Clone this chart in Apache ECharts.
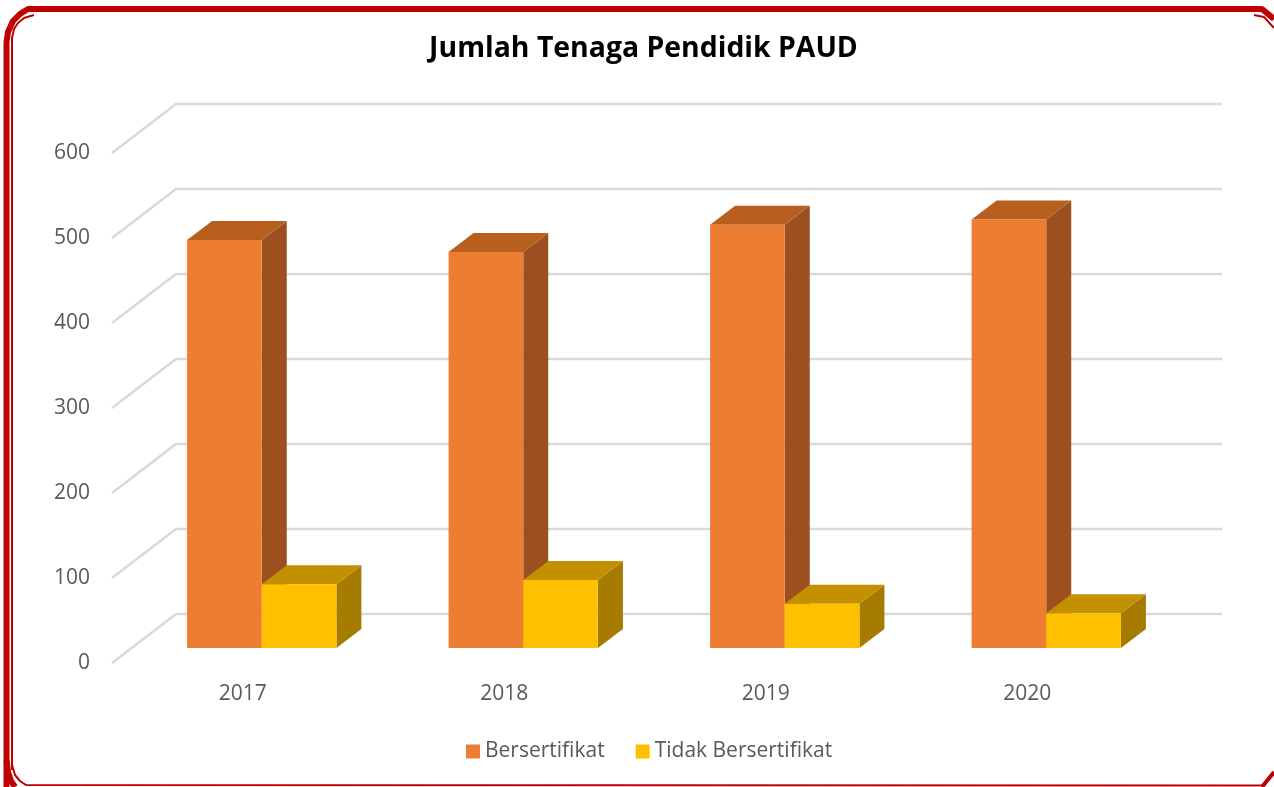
<!DOCTYPE html>
<html>
<head>
<meta charset="utf-8">
<style>html,body{margin:0;padding:0;background:#fff;overflow:hidden}#c{width:1274px;height:787px}</style>
<script src="https://cdn.jsdelivr.net/npm/echarts@6/dist/echarts.min.js"></script>
</head>
<body>
<div id="c"></div>
<script>
var titleText = 'Jumlah Tenaga Pendidik PAUD';
var years = ['2017', '2018', '2019', '2020'];
var bersertifikat = [480, 466, 498, 504];
var tidakBersertifikat = [75, 80, 52, 41];
var ticks = [0, 100, 200, 300, 400, 500, 600];

var FONT = '"Open Sans", "Noto Sans", sans-serif';
var DEPTH_X = 64, DEPTH_Y = 49;
var PLANE_X = 19, PLANE_Y = 15;
var BAR_DX = 25, BAR_DY = 19;
var BAR_RATIO = 0.2855;

function barRenderer(offset, front, top, side) {
  return function (params, api) {
    var p = api.coord([api.value(0), api.value(1)]);
    var base = api.coord([api.value(0), 0]);
    var w = api.size([1, 0])[0] * BAR_RATIO;
    var x0 = p[0] + PLANE_X + (offset - 1) * w;
    var x1 = x0 + w;
    var yT = p[1] - PLANE_Y;
    var yB = base[1] - PLANE_Y;
    return {
      type: 'group',
      children: [
        { type: 'polygon', shape: { points: [[x1, yT], [x1 + BAR_DX, yT - BAR_DY], [x1 + BAR_DX, yB - BAR_DY], [x1, yB]] }, style: { fill: side } },
        { type: 'polygon', shape: { points: [[x0, yT], [x0 + BAR_DX, yT - BAR_DY], [x1 + BAR_DX, yT - BAR_DY], [x1, yT]] }, style: { fill: top } },
        { type: 'rect', shape: { x: x0, y: yT, width: w, height: yB - yT }, style: { fill: front } }
      ]
    };
  };
}

function gridRenderer(params, api) {
  var y = api.coord([0, api.value(0)])[1];
  var cs = params.coordSys;
  return {
    type: 'polyline',
    shape: { points: [[cs.x, y], [cs.x + DEPTH_X, y - DEPTH_Y], [cs.x + cs.width + DEPTH_X, y - DEPTH_Y]] },
    style: { fill: 'none', stroke: '#d9d9d9', lineWidth: 2.5 }
  };
}

function frameLine(points, width) {
  return {
    type: 'polyline', silent: true, z: 100,
    shape: { points: points },
    style: { fill: 'none', stroke: '#c00000', lineWidth: width, lineJoin: 'round' }
  };
}

var chart = echarts.init(document.getElementById('c'), null, { renderer: 'canvas' });
chart.setOption({
  animation: false,
  backgroundColor: '#ffffff',
  title: {
    text: titleText, left: 638.5, textAlign: 'center', top: 30,
    textStyle: { fontFamily: FONT, fontSize: 28.4, fontWeight: 'bold', color: '#000000' }
  },
  legend: {
    data: ['Bersertifikat', 'Tidak Bersertifikat'],
    left: 461, top: 736, itemWidth: 14, itemHeight: 14, itemGap: 31, icon: 'rect',
    textStyle: { fontFamily: FONT, fontSize: 21, color: '#595959' }
  },
  grid: { left: 112, top: 153, width: 1046, height: 510 },
  xAxis: {
    type: 'category', data: years,
    axisLine: { show: false }, axisTick: { show: false }, splitLine: { show: false },
    axisLabel: { fontFamily: FONT, fontSize: 21, color: '#595959', margin: 21 }
  },
  yAxis: {
    type: 'value', min: 0, max: 600, interval: 100,
    axisLine: { show: false }, axisTick: { show: false }, splitLine: { show: false },
    axisLabel: { fontFamily: FONT, fontSize: 21, color: '#595959', margin: 22, padding: [0, 0, 3, 0] }
  },
  series: [
    { type: 'custom', name: 'grid', silent: true, z: 1, renderItem: gridRenderer,
      data: ticks.map(function (t) { return [t]; }), encode: { y: 0 } },
    { type: 'custom', name: 'Bersertifikat', z: 2, itemStyle: { color: '#ed7d31' },
      renderItem: barRenderer(0, '#ed7d31', '#b85f20', '#9c5020'),
      data: bersertifikat.map(function (v, i) { return [i, v]; }), encode: { x: 0, y: 1 } },
    { type: 'custom', name: 'Tidak Bersertifikat', z: 3, itemStyle: { color: '#ffc000' },
      renderItem: barRenderer(1, '#ffc000', '#c29000', '#a67c00'),
      data: tidakBersertifikat.map(function (v, i) { return [i, v]; }), encode: { x: 0, y: 1 } }
  ],
  graphic: { elements: [
    frameLine([[6.5, 787], [6.5, 42], [8, 32], [13, 21], [20, 14], [28, 9], [1262, 9], [1274, 19]], 6),
    frameLine([[12, 770], [12, 38], [14, 29], [18, 23], [24, 18], [34, 15]], 2),
    frameLine([[1254, 15], [1264, 17], [1274, 28]], 2),
    frameLine([[6.5, 760], [8, 772], [11, 781], [15, 787]], 6),
    frameLine([[12, 765], [15, 775], [20, 781], [26, 785], [1262, 785.5]], 2),
    frameLine([[1262, 787], [1274, 772]], 4)
  ] }
});
</script>
</body>
</html>
